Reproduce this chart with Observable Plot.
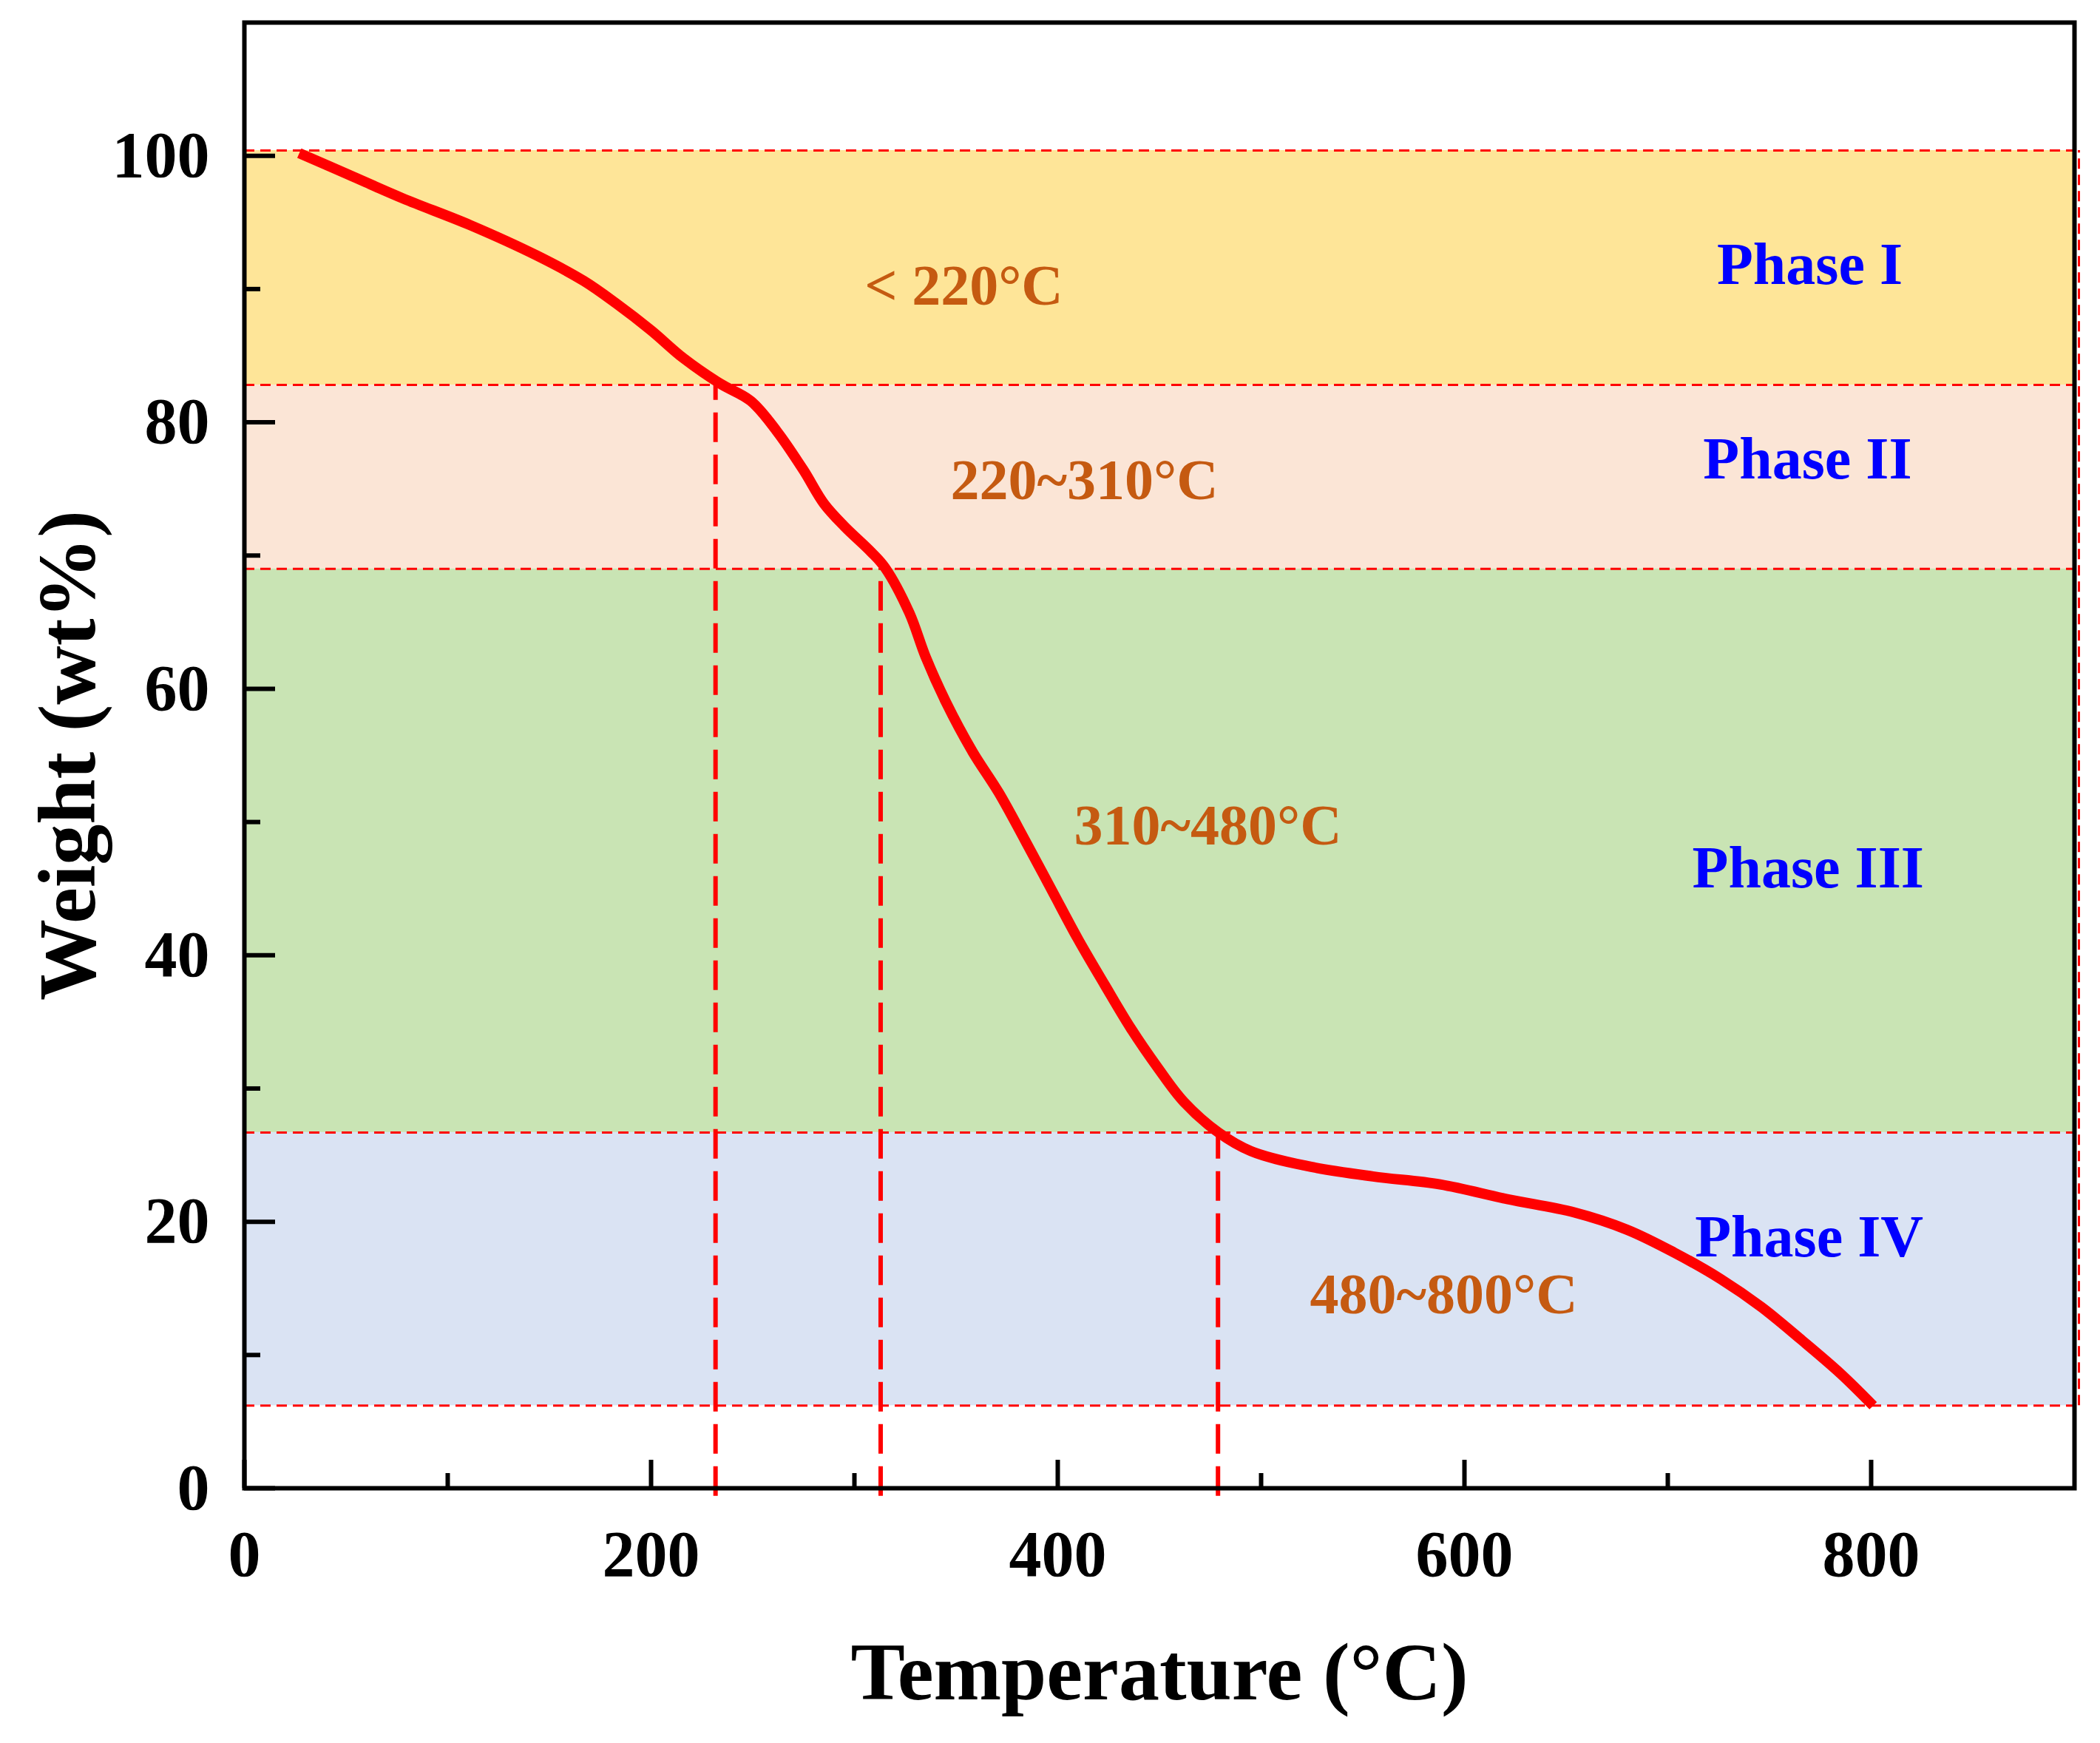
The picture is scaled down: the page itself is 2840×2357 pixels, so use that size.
<!DOCTYPE html>
<html>
<head>
<meta charset="utf-8">
<script src="https://cdn.jsdelivr.net/npm/d3@7"></script>
<script src="https://cdn.jsdelivr.net/npm/@observablehq/plot@0.6"></script>
<style>
  html, body { margin: 0; padding: 0; background: #ffffff; }
  #chart svg { display: block; }
</style>
</head>
<body>
<div id="chart"></div>
<script>
// ---- Data ----
const temps = [27, 51, 78, 111, 144, 167, 183, 200, 216, 234, 249, 262, 275, 285, 295, 308, 315, 327, 335, 345, 358, 371, 384, 397, 410, 423, 436, 449, 462, 479, 495, 522, 555, 588, 621, 654, 680, 703, 726, 746, 766, 785, 801];
const weights = [100.2, 98.6, 96.8, 94.8, 92.5, 90.6, 88.9, 86.9, 84.8, 82.9, 81.6, 79.3, 76.4, 73.9, 72.2, 70.3, 69.1, 65.7, 62.4, 59.0, 55.3, 52.2, 48.6, 44.9, 41.2, 37.8, 34.5, 31.6, 29.0, 26.7, 25.3, 24.2, 23.4, 22.8, 21.7, 20.7, 19.4, 17.7, 15.7, 13.6, 11.1, 8.6, 6.2];

const bandTops = [100.4, 82.8, 69.0, 26.7];
const bandBottoms = [82.8, 69.0, 26.7, 6.2];
const bandColors = ["#FEE598", "#FBE5D6", "#C9E4B4", "#DAE3F3"];
const boundaryLines = [100.4, 82.8, 69.0, 26.7, 6.2];

const transitionTemps = [231.7, 312.9, 478.8];
const transitionWeights = [82.8, 69.0, 26.7];

const rangeLabels = ["< 220°C", "220~310°C", "310~480°C", "480~800°C"];
const rangeX = [353.8, 413.1, 473.8, 589.8];
const rangeY = [90.2, 75.6, 49.7, 14.5];

const phaseLabels = ["Phase I", "Phase II", "Phase III", "Phase IV"];
const phaseX = [769.8, 768.7, 769.0, 769.5];
const phaseY = [91.8, 77.2, 46.5, 18.8];

const xMajor = [0, 200, 400, 600, 800];
const xMinor = [100, 300, 500, 700];
const yMajor = [0, 20, 40, 60, 80, 100];
const yMinor = [10, 30, 50, 70, 90];

const xTitle = ["Temperature (°C)"];
const yTitle = ["Weight (wt%)"];

// ---- Build ----
const curve = temps.map((t, i) => ({t, w: weights[i]}));
const bands = bandTops.map((top, i) => ({top, bottom: bandBottoms[i], color: bandColors[i]}));
const transitions = transitionTemps.map((t, i) => ({t, w: transitionWeights[i]}));
const ranges = rangeLabels.map((s, i) => ({s, x: rangeX[i], y: rangeY[i]}));
const phases = phaseLabels.map((s, i) => ({s, x: phaseX[i], y: phaseY[i]}));

const W = 2840, H = 2357;
const mL = 330, mR = 35, mT = 30, mB = 345;
const innerW = W - mL - mR, innerH = H - mT - mB;
const serif = "'Liberation Serif', 'Times New Roman', serif";

const chart = Plot.plot({
  width: W,
  height: H,
  marginLeft: mL,
  marginRight: mR,
  marginTop: mT,
  marginBottom: mB,
  style: {background: "#ffffff", fontFamily: serif},
  x: {domain: [0, 900], axis: null},
  y: {domain: [0, 110], axis: null},
  marks: [
    Plot.rect(bands, {x1: 0, x2: 900, y1: "bottom", y2: "top", fill: "color"}),
    Plot.ruleY(boundaryLines, {x1: 0, x2: 900, stroke: "#FF0000", strokeWidth: 3, strokeDasharray: "14,8"}),
    Plot.ruleX([900], {y1: bandBottoms[3], y2: bandTops[0], stroke: "#FF0000", strokeWidth: 3, strokeDasharray: "14,8", dx: 6}),
    Plot.ruleX(transitions, {x: "t", y1: -0.6, y2: "w", stroke: "#FF0000", strokeWidth: 6, strokeDasharray: "40,17"}),
    Plot.line(curve, {x: "t", y: "w", stroke: "#FF0000", strokeWidth: 14, curve: "catmull-rom", strokeLinecap: "butt"}),
    Plot.text(ranges, {x: "x", y: "y", text: "s", fill: "#C55A11", fontSize: 78, fontWeight: "bold", fontFamily: serif}),
    Plot.text(phases, {x: "x", y: "y", text: "s", fill: "#0000FF", fontSize: 80, fontWeight: "bold", fontFamily: serif}),
    // inward ticks
    Plot.ruleX(xMajor, {x: d => d, insetTop: innerH - 38, stroke: "#000", strokeWidth: 6}),
    Plot.ruleX(xMinor, {x: d => d, insetTop: innerH - 20, stroke: "#000", strokeWidth: 6}),
    Plot.ruleY(yMajor, {y: d => d, insetRight: innerW - 42, stroke: "#000", strokeWidth: 6}),
    Plot.ruleY(yMinor, {y: d => d, insetRight: innerW - 22, stroke: "#000", strokeWidth: 6}),
    Plot.frame({stroke: "#000", strokeWidth: 6}),
    Plot.axisX(xMajor, {tickSize: 0, tickPadding: 56, fontSize: 88, fontWeight: "bold", fontFamily: serif, label: null}),
    Plot.axisY(yMajor, {tickSize: 0, tickPadding: 47, fontSize: 88, fontWeight: "bold", fontFamily: serif, label: null}),
    Plot.text(xTitle, {text: d => d, frameAnchor: "bottom", textAnchor: "middle", lineAnchor: "middle", dy: 250, fontSize: 110, fontWeight: "bold", fontFamily: serif, fill: "#000"}),
    Plot.text(yTitle, {text: d => d, frameAnchor: "left", textAnchor: "middle", lineAnchor: "middle", dx: -238, rotate: -90, fontSize: 110, fontWeight: "bold", fontFamily: serif, fill: "#000"})
  ]
});
document.getElementById("chart").appendChild(chart);
</script>
</body>
</html>
